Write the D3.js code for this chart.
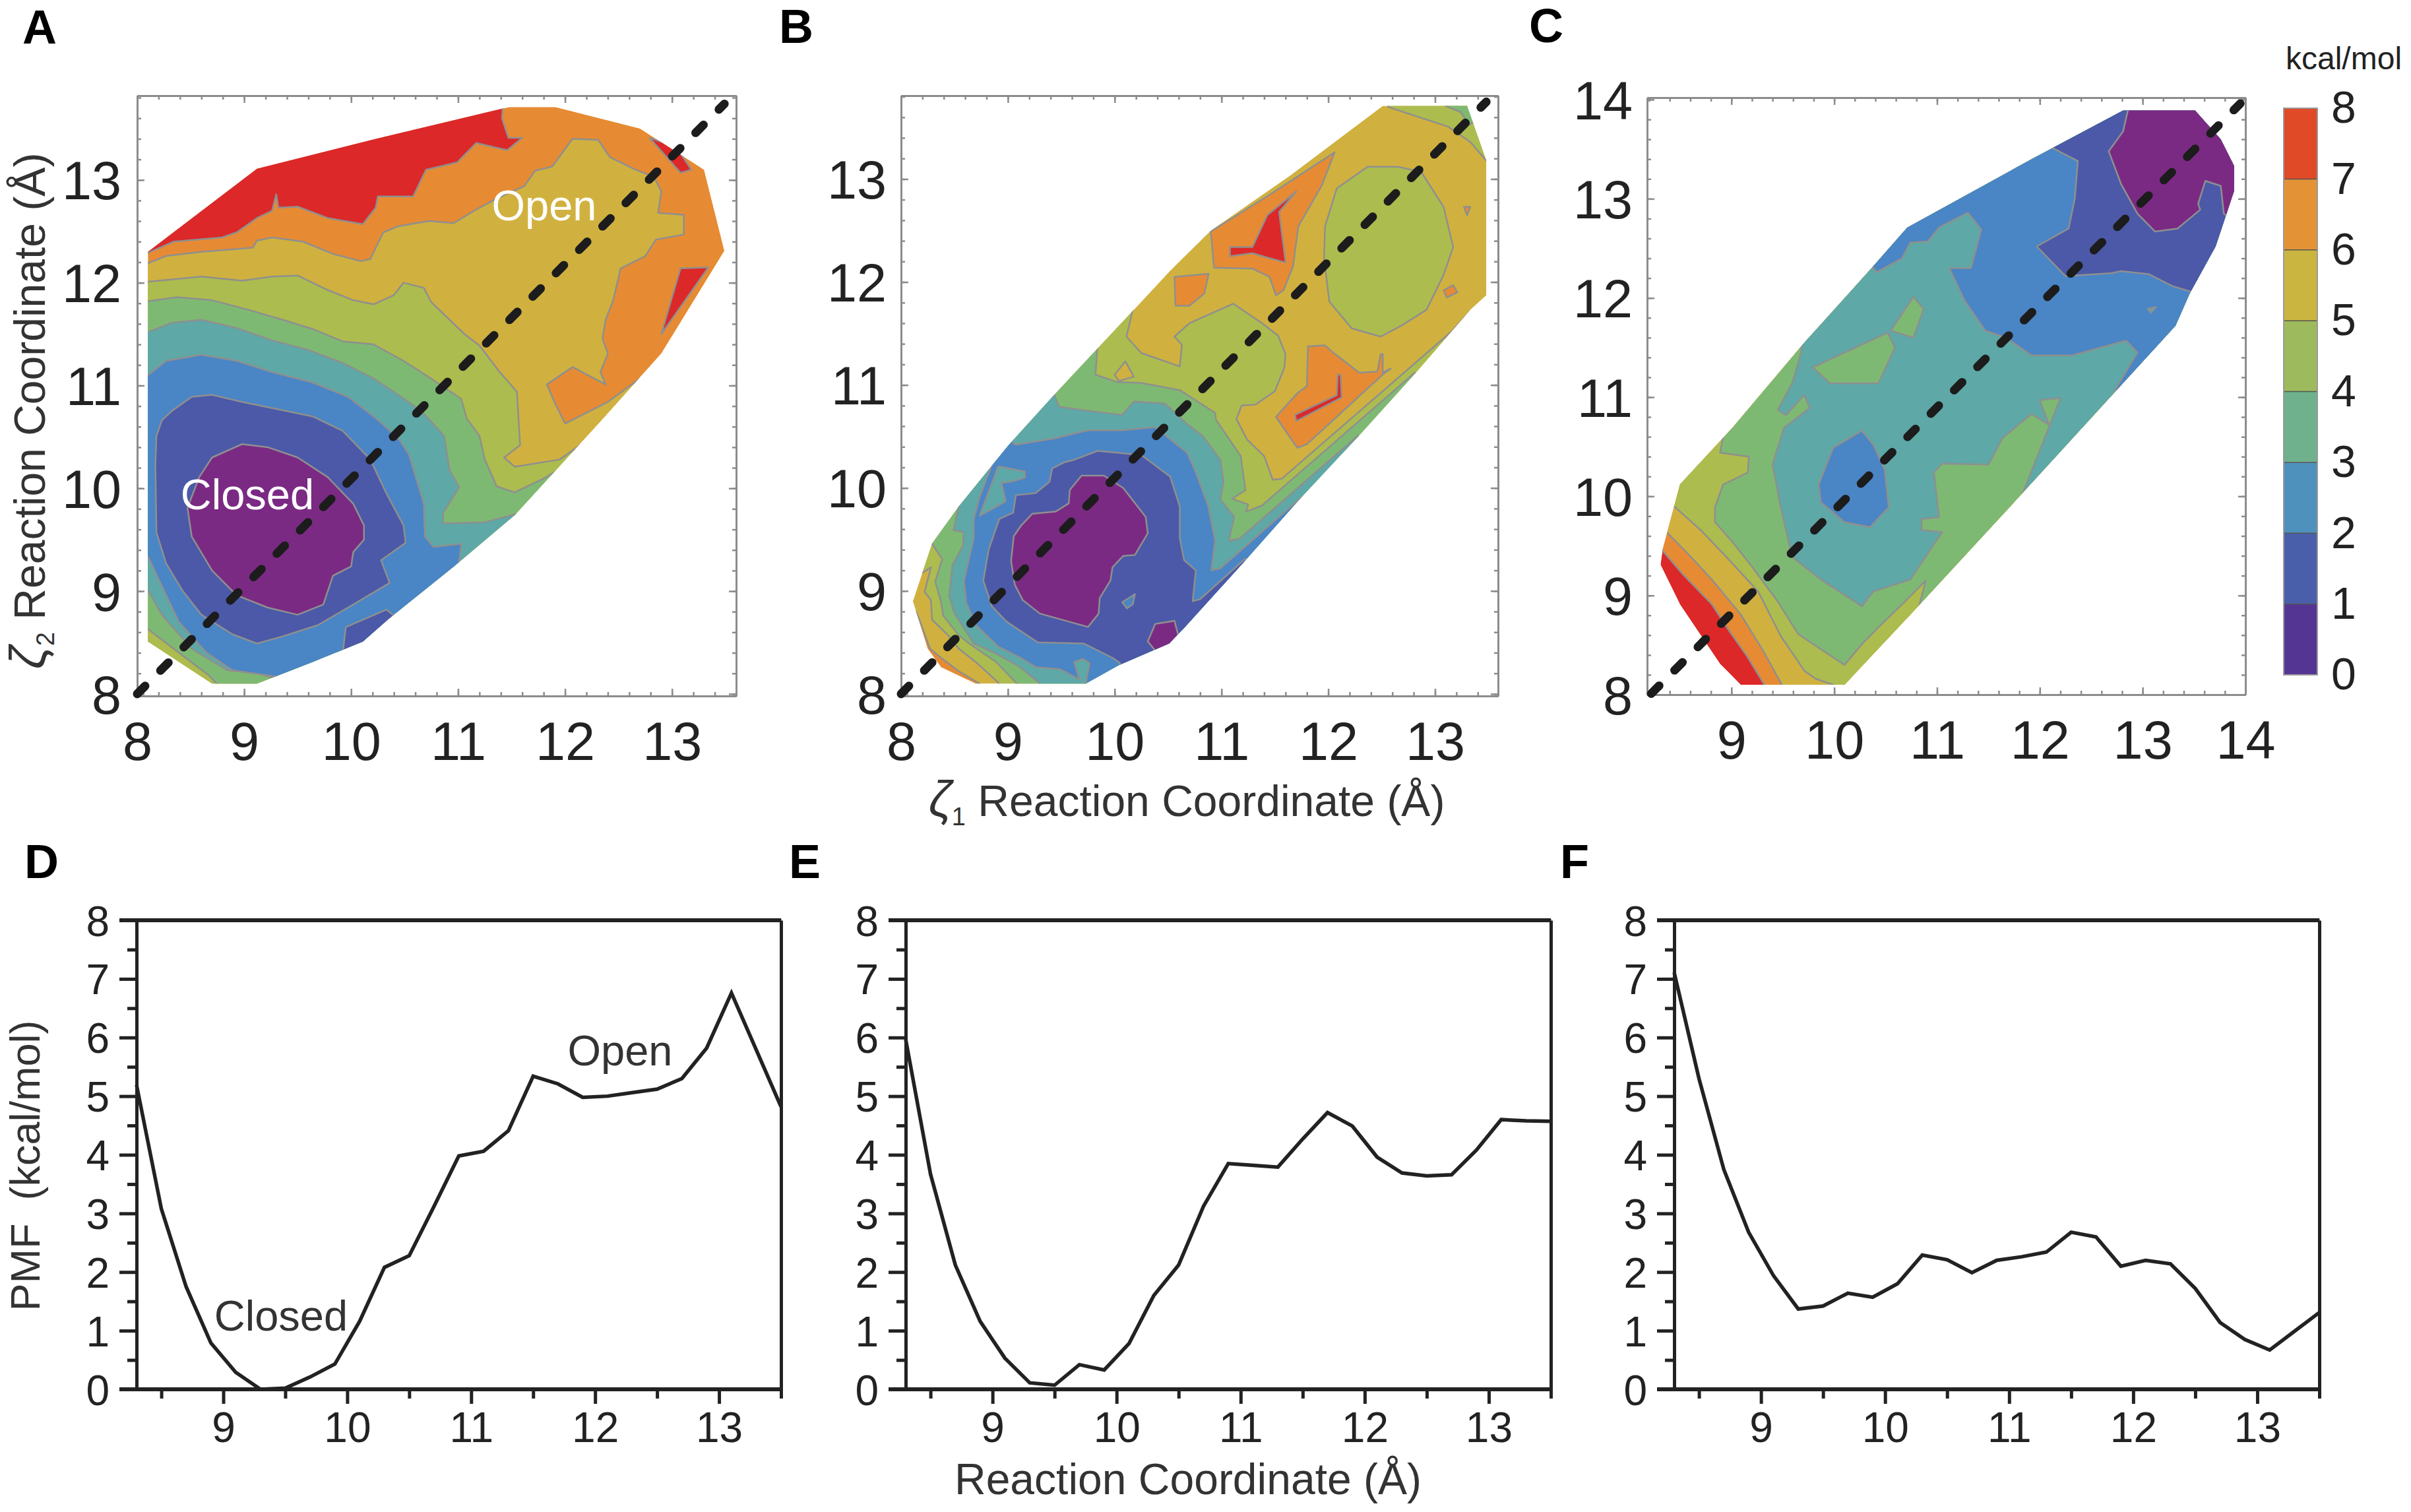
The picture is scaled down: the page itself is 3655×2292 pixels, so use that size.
<!DOCTYPE html>
<html>
<head>
<meta charset="utf-8">
<title>PMF maps</title>
<script src="https://cdn.jsdelivr.net/npm/d3@7"></script>
<style>
  html, body { margin: 0; background: #fff; }
  svg { display: block; }
  text { font-family: "Liberation Sans", Arial, sans-serif; fill: #222; }
</style>
</head>
<body>
<div id="chart"></div>
<script>
// level bands, low to high
const mapColors = ['#7b2a84', '#4b59a8', '#4a85c5', '#5ea8a7', '#7eb973', '#adbc4e', '#d0b13f', '#e68b33', '#dc2828'];
const barColors = ['#553594', '#4a5faa', '#4f91bd', '#6eb18c', '#9dbb5c', '#cbb541', '#e39336', '#e04a26'];
const barLevels = [0, 1, 2, 3, 4, 5, 6, 7, 8];

// Panel A contours, [zeta1, zeta2]
const hullA = [[8.10,12.30],[9.12,13.11],[10.23,13.40],[11.48,13.71],[11.91,13.71],[12.70,13.50],[13.30,13.10],[13.49,12.31],[12.90,11.31],[12.33,10.65],[11.53,9.74],[10.96,9.24],[10.35,8.73],[10.11,8.51],[9.64,8.31],[9.12,8.10],[8.70,8.10],[8.10,8.51]];
const aRedTop = [[7.9,12.2],[8.10,12.29],[8.34,12.40],[8.79,12.44],[8.93,12.49],[9.12,12.63],[9.26,12.70],[9.30,12.86],[9.32,12.73],[9.50,12.74],[9.78,12.63],[10.11,12.57],[10.23,12.73],[10.25,12.84],[10.58,12.84],[10.70,13.10],[10.99,13.17],[11.17,13.36],[11.46,13.29],[11.60,13.41],[11.47,13.41],[11.41,13.60],[11.43,13.9],[9,13.9],[7.9,13]];
const aRedRight1 = [[12.79,13.41],[13.04,13.32],[13.18,13.10],[13.08,13.07]];
const aRedRight2 = [[13.08,12.14],[13.34,12.15],[12.90,11.50]];
const aYellow = [[7.9,12.14],[8.10,12.19],[8.27,12.26],[8.60,12.30],[9.08,12.34],[9.12,12.41],[9.26,12.44],[9.55,12.40],[9.83,12.28],[10.09,12.21],[10.18,12.23],[10.30,12.49],[10.44,12.55],[10.73,12.60],[10.96,12.58],[11.15,12.70],[11.36,12.82],[11.62,12.94],[11.72,13.09],[11.88,13.13],[12.07,13.40],[12.31,13.39],[12.42,13.22],[12.66,13.10],[12.83,13.03],[12.90,12.89],[12.87,12.68],[13.11,12.66],[13.11,12.47],[12.85,12.42],[12.75,12.26],[12.52,12.14],[12.45,11.83],[12.38,11.64],[12.35,11.46],[12.40,11.31],[12.33,11.13],[12.38,11.01],[12.07,11.18],[11.83,11.01],[11.91,10.82],[12.00,10.63],[12.40,10.84],[12.78,11.13],[13.5,10.5],[12,7.9],[7.9,7.9]];
const aOlive = [[7.9,11.99],[8.10,12.01],[8.60,12.06],[8.98,12.02],[9.26,12.06],[9.50,12.07],[9.78,11.93],[10.02,11.83],[10.21,11.79],[10.40,11.88],[10.49,12.00],[10.68,11.95],[10.75,11.81],[11.06,11.50],[11.20,11.39],[11.39,11.13],[11.55,10.94],[11.58,10.42],[11.43,10.30],[11.53,10.21],[11.95,10.28],[12.45,10.65],[12.5,9],[10,7.9],[7.9,7.9]];
const aGreen = [[7.9,11.80],[8.10,11.82],[8.37,11.86],[8.70,11.83],[9.03,11.74],[9.36,11.64],[9.64,11.55],[9.92,11.43],[10.21,11.40],[10.49,11.24],[10.73,11.08],[11.03,10.87],[11.08,10.68],[11.20,10.51],[11.25,10.28],[11.36,10.02],[11.53,9.96],[11.79,10.09],[12.05,10.25],[12,9],[10,7.9],[8.77,7.9],[8.77,8.07],[8.67,8.18],[8.39,8.40],[8.10,8.63],[7.9,8.68]];
const aTeal = [[7.9,11.45],[8.10,11.52],[8.32,11.61],[8.60,11.64],[8.93,11.56],[9.26,11.44],[9.59,11.35],[9.92,11.22],[10.21,11.07],[10.44,10.91],[10.66,10.75],[10.87,10.51],[10.92,10.18],[11.01,10.01],[10.86,9.76],[10.86,9.66],[11.25,9.67],[11.58,9.76],[12,9],[10,7.9],[9.36,7.9],[9.36,8.07],[9.26,8.16],[9.12,8.20],[8.84,8.23],[8.51,8.44],[8.23,8.77],[8.10,9.01],[7.9,9.06]];
const aBlue = [[7.9,11.0],[8.10,11.10],[8.27,11.24],[8.60,11.30],[8.93,11.24],[9.26,11.13],[9.64,11.03],[9.97,10.89],[10.21,10.70],[10.44,10.49],[10.54,10.33],[10.61,10.09],[10.68,9.85],[10.69,9.53],[10.77,9.43],[11.03,9.46],[11.0,9.2],[10.5,8.2],[9.41,8.15],[9.22,8.18],[8.89,8.23],[8.65,8.40],[8.39,8.70],[8.23,9.05],[8.10,9.34],[7.9,9.39]];
const aIndigo = [[8.18,10.51],[8.23,10.66],[8.32,10.75],[8.51,10.89],[8.70,10.91],[8.98,10.84],[9.31,10.77],[9.64,10.70],[9.92,10.56],[10.18,10.28],[10.33,9.95],[10.49,9.64],[10.51,9.47],[10.28,9.30],[10.36,9.08],[10.02,8.87],[9.69,8.67],[9.36,8.56],[9.12,8.49],[8.89,8.58],[8.60,8.77],[8.42,9.01],[8.27,9.27],[8.18,9.57],[8.17,10.23]];
const aIndigoLow = [[9.95,8.65],[10.33,8.82],[10.45,8.72],[10.1,8.4],[9.92,8.38]];
const aPurple = [[8.58,10.11],[8.70,10.30],[8.98,10.43],[9.22,10.40],[9.50,10.30],[9.78,10.11],[10.02,9.85],[10.12,9.64],[10.12,9.50],[10.02,9.38],[10.00,9.24],[9.83,9.15],[9.74,8.87],[9.50,8.77],[9.22,8.84],[8.93,8.96],[8.70,9.20],[8.51,9.53],[8.47,9.81]];

// Panel B contours
const hullB = [[8.11,8.90],[8.29,9.46],[8.54,9.82],[9.01,10.42],[9.43,10.90],[10.25,11.81],[10.52,12.11],[10.90,12.50],[11.65,13.04],[12.51,13.71],[13.30,13.71],[13.48,13.18],[13.48,11.87],[13.33,11.73],[12.83,11.13],[12.28,10.50],[11.74,9.90],[11.20,9.27],[10.65,8.64],[10.51,8.49],[10.04,8.28],[9.73,8.10],[8.70,8.10],[8.375,8.26],[8.25,8.44]];
const bOrangeCorner = [[8.14,8.80],[8.18,8.70],[8.27,8.44],[8.375,8.35],[8.54,8.22],[8.735,8.10],[8.75,7.95],[7.95,7.95],[7.95,8.80]];
const bOliveTop = [[12.56,13.70],[13.12,13.51],[13.33,13.36],[13.48,13.18],[13.7,13.18],[13.7,13.9],[12.56,13.9]];
const bGreenTop = [[13.10,13.71],[13.24,13.65],[13.32,13.53],[13.45,13.6],[13.4,13.9],[13.1,13.9]];
const bOrangeTop = [[10.90,12.49],[10.93,12.14],[11.29,12.13],[11.45,12.05],[11.51,11.87],[11.58,11.92],[11.67,12.15],[11.72,12.54],[11.94,12.94],[12.06,13.26],[11.47,12.86]];
const bRedTop = [[11.08,12.34],[11.29,12.34],[11.43,12.65],[11.70,12.88],[11.54,12.68],[11.60,12.19],[11.42,12.24],[11.29,12.28],[11.08,12.25]];
const bOrangeLeft = [[10.56,12.05],[10.88,12.08],[10.84,11.89],[10.70,11.77],[10.57,11.77]];
const bOrangeTiny1 = [[13.08,11.92],[13.17,11.97],[13.21,11.90],[13.11,11.85]];
const bOrangeTiny2 = [[13.27,12.73],[13.33,12.73],[13.30,12.65]];
const bOrangeMid = [[11.51,10.69],[11.71,10.92],[11.80,10.99],[11.81,11.375],[11.97,11.385],[12.04,11.32],[12.29,11.12],[12.46,11.13],[12.49,11.30],[12.51,11.30],[12.51,11.12],[12.585,11.16],[12.52,11.11],[11.80,10.425],[11.71,10.39]];
const bRedMid = [[11.69,10.71],[12.08,10.90],[12.09,11.10],[12.115,11.10],[12.125,10.88],[11.70,10.65]];
const bOliveRight = [[11.97,12.54],[12.08,12.91],[12.37,13.12],[12.65,13.12],[12.87,13.07],[13.08,12.73],[13.17,12.34],[13.08,12.07],[12.92,11.73],[12.69,11.58],[12.49,11.47],[12.22,11.55],[12.01,11.81],[11.96,12.23]];
const bOlive = [[10.20,11.86],[10.11,11.47],[10.25,11.31],[10.61,11.18],[10.63,11.39],[10.56,11.47],[10.70,11.60],[11.11,11.79],[11.38,11.60],[11.53,11.48],[11.60,11.30],[11.59,11.17],[11.50,10.94],[11.32,10.81],[11.19,10.80],[11.14,10.67],[11.24,10.47],[11.40,10.31],[11.48,10.08],[11.565,10.09],[13.16,11.525],[13.33,11.72],[13.46,11.60],[13.0,10.0],[10.5,7.95],[8.95,7.95],[8.91,8.11],[8.71,8.30],[8.54,8.44],[8.44,8.57],[8.29,8.72],[8.28,8.91],[8.22,8.99],[8.28,9.23],[8.19,9.17],[8.0,9.8]];
const bYellowIsle = [[10.00,11.10],[10.10,11.23],[10.18,11.08],[10.04,11.04]];
const bGreen = [[9.84,11.39],[9.82,11.10],[10.02,11.03],[10.25,11.02],[10.61,10.95],[10.94,10.73],[10.95,10.66],[11.18,10.31],[11.225,9.98],[11.10,9.895],[11.25,9.84],[11.23,9.77],[11.38,9.83],[12.81,11.12],[12.9,11.05],[11.2,7.95],[9.2,7.95],[9.075,8.11],[8.89,8.31],[8.65,8.48],[8.54,8.57],[8.395,8.76],[8.375,8.89],[8.32,9.09],[8.385,9.31],[8.29,9.46],[8.2,9.6],[9.6,11.4]];
const bTeal = [[9.43,10.92],[9.48,10.79],[9.75,10.75],[10.07,10.71],[10.18,10.84],[10.47,10.82],[10.68,10.62],[10.82,10.51],[10.99,10.275],[11.02,10.06],[10.99,9.89],[11.12,9.72],[11.07,9.485],[11.17,9.51],[12.28,10.51],[12.3,10.4],[11.2,7.95],[9.35,7.95],[9.29,8.11],[9.10,8.27],[8.89,8.39],[8.68,8.49],[8.63,8.57],[8.50,8.78],[8.45,8.95],[8.48,9.25],[8.58,9.44],[8.585,9.57],[8.49,9.59],[8.54,9.82],[8.45,9.95],[9.33,11.0]];
const bBlue = [[8.98,10.5],[9.07,10.42],[9.43,10.48],[9.75,10.56],[10.07,10.56],[10.38,10.59],[10.68,10.34],[10.76,10.15],[10.875,9.83],[10.94,9.485],[10.905,9.20],[10.99,9.22],[11.76,9.92],[11.85,9.9],[11.0,7.95],[9.75,7.95],[9.72,8.05],[9.765,8.30],[9.70,8.34],[9.62,8.31],[9.67,8.14],[9.49,8.24],[9.26,8.26],[9.12,8.35],[8.91,8.46],[8.70,8.67],[8.61,8.89],[8.59,9.10],[8.68,9.51],[8.68,9.69],[8.735,9.91],[8.85,10.22],[8.84,10.3]];
const bTealIsle = [[8.91,10.21],[9.16,10.16],[9.16,10.10],[9.03,10.06],[8.94,10.05],[8.98,9.87],[8.735,9.73]];
const bIndigo = [[8.77,9.10],[8.82,9.40],[8.92,9.70],[9.05,9.76],[9.075,9.93],[9.26,9.95],[9.39,10.06],[9.415,10.19],[9.53,10.25],[9.61,10.27],[9.84,10.36],[10.25,10.32],[10.52,10.11],[10.61,9.82],[10.61,9.51],[10.65,9.30],[10.76,9.20],[10.73,8.90],[10.80,8.92],[11.225,9.315],[11.3,9.2],[10.9,8.6],[10.5,8.35],[10.05,8.2],[10.05,8.30],[9.98,8.35],[9.71,8.49],[9.28,8.50],[8.99,8.70],[8.85,8.85]];
const bBlueIsle = [[10.07,8.89],[10.19,8.97],[10.17,8.87],[10.115,8.83]];
const bPurple = [[9.055,9.53],[9.12,9.63],[9.23,9.75],[9.445,9.77],[9.57,9.85],[9.58,9.98],[9.69,10.12],[9.90,10.12],[10.08,10.0],[10.29,9.72],[10.31,9.56],[10.19,9.35],[10.08,9.34],[9.98,9.23],[9.96,9.10],[9.86,8.93],[9.85,8.78],[9.75,8.65],[9.30,8.78],[9.14,8.91],[9.065,9.06],[9.03,9.29]];
const bPurpleLow = [[10.31,8.51],[10.38,8.68],[10.56,8.71],[10.60,8.55],[10.51,8.42],[10.38,8.42]];

// Panel C contours
const hullC = [[8.31,9.31],[8.33,9.46],[8.50,10.12],[9.01,10.69],[9.71,11.55],[10.38,12.32],[10.71,12.71],[11.92,13.40],[12.81,13.89],[13.51,13.89],[13.76,13.60],[13.89,13.33],[13.89,13.08],[13.71,12.52],[13.46,12.05],[13.32,11.72],[12.72,11.04],[11.75,9.94],[10.77,8.84],[10.10,8.10],[9.09,8.10],[8.89,8.31],[8.50,8.91]];
const cOrange = [[8.25,9.51],[8.33,9.45],[8.53,9.21],[8.81,8.91],[8.98,8.64],[9.15,8.39],[9.32,8.10],[9.40,8.01],[14.5,8],[14.5,14.2],[8.2,14.2]];
const cYellow = [[8.25,9.75],[8.32,9.69],[8.56,9.44],[8.81,9.16],[9.09,8.81],[9.31,8.44],[9.49,8.10],[9.57,8.01],[14.5,8],[14.5,14.2],[8.2,14.2]];
const cOlive = [[8.3,9.98],[8.42,9.92],[8.70,9.66],[8.95,9.39],[9.26,9.04],[9.48,8.59],[9.71,8.24],[9.82,8.16],[9.99,8.10],[10.04,8.01],[14.5,8],[14.5,14.2],[8.2,14.2]];
const cGreen = [[8.95,10.77],[8.89,10.44],[9.17,10.40],[9.16,10.24],[8.92,10.12],[8.84,9.89],[8.84,9.74],[9.01,9.54],[9.20,9.29],[9.45,8.94],[9.65,8.61],[10.10,8.30],[10.27,8.51],[10.43,8.68],[10.66,8.91],[10.89,9.15],[10.80,8.79],[14.5,9],[14.5,14.2],[9,14.2]];
const cTeal = [[9.68,11.57],[9.68,11.45],[9.59,11.14],[9.45,10.87],[9.53,10.82],[9.71,11.02],[9.76,10.89],[9.51,10.69],[9.40,10.32],[9.48,9.89],[9.59,9.39],[9.87,9.16],[10.27,8.89],[10.38,9.04],[10.74,9.16],[11.05,9.64],[10.85,9.66],[10.85,9.77],[11.02,9.79],[10.97,10.24],[11.05,10.33],[11.50,10.32],[11.64,10.59],[11.92,10.83],[12.09,10.72],[12.00,10.97],[12.20,10.99],[11.81,9.97],[14.5,9.5],[14.5,14.2],[9.6,14.2]];
const cGreenIsle1 = [[9.79,11.30],[10.52,11.65],[10.59,11.50],[10.43,11.14],[9.96,11.14]];
const cGreenIsle2 = [[10.55,11.67],[10.77,12.01],[10.87,11.89],[10.77,11.60]];
const cBlue = [[10.35,12.35],[10.41,12.26],[10.66,12.40],[10.74,12.56],[10.91,12.57],[11.02,12.71],[11.30,12.86],[11.43,12.69],[11.33,12.30],[11.12,12.30],[11.27,11.97],[11.47,11.67],[11.67,11.60],[11.92,11.42],[12.31,11.42],[12.84,11.57],[12.95,11.45],[12.73,11.07],[12.9,10.9],[14.5,11.5],[14.5,14.2],[10.35,14.2]];
const cTealTiny = [[13.05,11.89],[13.13,11.91],[13.08,11.85]];
const cBlueIsle = [[9.85,10.12],[9.99,10.49],[10.27,10.66],[10.38,10.52],[10.49,10.27],[10.53,9.89],[10.35,9.69],[10.10,9.74],[9.87,9.94]];
const cIndigo = [[12.09,13.53],[12.37,13.38],[12.34,13.00],[12.28,12.70],[11.97,12.52],[12.25,12.22],[12.70,12.25],[12.79,12.27],[13.06,12.24],[13.29,12.12],[13.51,12.05],[14.5,12],[14.5,14.2],[12.09,14.2]];
const cPurple = [[12.87,13.95],[12.81,13.68],[12.67,13.48],[12.79,13.15],[12.95,12.85],[13.12,12.67],[13.34,12.70],[13.56,12.89],[13.54,12.95],[13.61,13.18],[13.76,13.13],[13.79,12.85],[13.85,12.80],[14.2,13],[14.2,14.2],[12.87,14.2]];

// PMF profiles
const coordD = [8.3,8.5,8.7,8.9,9.1,9.3,9.5,9.7,9.9,10.1,10.3,10.5,10.7,10.9,11.1,11.3,11.5,11.7,11.9,12.1,12.3,12.5,12.7,12.9,13.1,13.3,13.5];
const pmfD = [5.19,3.08,1.75,0.79,0.29,0,0.02,0.21,0.43,1.16,2.08,2.28,3.12,3.98,4.06,4.41,5.34,5.21,4.98,5.0,5.06,5.12,5.30,5.82,6.76,5.79,4.82];
const pmfE = [5.97,3.67,2.12,1.16,0.53,0.11,0.07,0.42,0.33,0.78,1.60,2.12,3.12,3.85,3.82,3.79,4.27,4.72,4.49,3.96,3.69,3.64,3.66,4.08,4.60,4.58,4.57];
const pmfF = [7.11,5.30,3.75,2.68,1.94,1.37,1.42,1.64,1.57,1.80,2.29,2.21,1.99,2.20,2.26,2.34,2.68,2.60,2.10,2.20,2.14,1.72,1.14,0.85,0.67,0.99,1.31];

const WIDTH = 3655;
const HEIGHT = 2292;

const svg = d3.select('#chart').append('svg')
  .attr('width', WIDTH).attr('height', HEIGHT)
  .attr('viewBox', `0 0 ${WIDTH} ${HEIGHT}`);

const band = (i) => mapColors[i];

function drawMap(id, box, xDomain, yDomain, xMajor, yMajor, hull, layers, diagonal) {
  const x = d3.scaleLinear().domain(xDomain).range([box.left, box.right]);
  const y = d3.scaleLinear().domain(yDomain).range([box.bottom, box.top]);
  const line = d3.line().x((d) => x(d[0])).y((d) => y(d[1])).curve(d3.curveLinearClosed);

  svg.append('clipPath').attr('id', `hull${id}`).append('path').attr('d', line(hull));

  const g = svg.append('g').attr('clip-path', `url(#hull${id})`);
  g.append('path').attr('d', line(hull)).attr('fill', band(layers[0][0]));
  g.selectAll('.band')
    .data(layers.slice(1))
    .join('path')
    .attr('class', 'band')
    .attr('d', (d) => line(d[1]))
    .attr('fill', (d) => band(d[0]))
    .attr('stroke', '#8f8f8f')
    .attr('stroke-width', 2.5)
    .attr('stroke-linejoin', 'round');

  // thin grey frame, ticks inward on all four sides
  const minorX = d3.range(Math.ceil(xDomain[0] * 5), Math.floor(xDomain[1] * 5) + 1).map((d) => d / 5);
  const minorY = d3.range(Math.ceil(yDomain[0] * 5), Math.floor(yDomain[1] * 5) + 1).map((d) => d / 5);
  const frame = svg.append('g');
  const addAxis = (axis, tx, ty, cls) => {
    const a = frame.append('g').attr('transform', `translate(${tx},${ty})`).attr('class', cls).call(axis);
    a.selectAll('.domain').attr('stroke', '#8c8c8c').attr('stroke-width', 3);
    a.selectAll('.tick line').attr('stroke', '#8c8c8c').attr('stroke-width', 2.5);
    return a;
  };
  addAxis(d3.axisBottom(x).tickValues(minorX).tickSize(-6).tickFormat('').tickSizeOuter(0), 0, box.bottom);
  addAxis(d3.axisTop(x).tickValues(minorX).tickSize(-6).tickFormat('').tickSizeOuter(0), 0, box.top);
  addAxis(d3.axisLeft(y).tickValues(minorY).tickSize(-6).tickFormat('').tickSizeOuter(0), box.left, 0);
  addAxis(d3.axisRight(y).tickValues(minorY).tickSize(-6).tickFormat('').tickSizeOuter(0), box.right, 0);
  addAxis(d3.axisTop(x).tickValues(xMajor).tickSize(-11).tickFormat('').tickSizeOuter(0), 0, box.top);
  addAxis(d3.axisRight(y).tickValues(yMajor).tickSize(-11).tickFormat('').tickSizeOuter(0), box.right, 0);

  const bottom = addAxis(d3.axisBottom(x).tickValues(xMajor).tickSize(-11).tickFormat(d3.format('d')).tickSizeOuter(0), 0, box.bottom);
  bottom.selectAll('text').attr('y', 97).attr('dy', 0).style('font-size', '81px').style('font-family', 'Liberation Sans').attr('fill', '#111');
  const left = addAxis(d3.axisLeft(y).tickValues(yMajor).tickSize(-11).tickFormat(d3.format('d')).tickSizeOuter(0), box.left, 0);
  left.selectAll('text').attr('x', box.labelX).attr('dy', '0.36em').style('font-size', '81px').style('font-family', 'Liberation Sans').attr('fill', '#111');

  svg.append('path')
    .attr('d', d3.line().x((d) => x(d[0])).y((d) => y(d[1]))(diagonal))
    .attr('fill', 'none')
    .attr('stroke', '#1c1c1c')
    .attr('stroke-width', 13)
    .attr('stroke-linecap', 'round')
    .attr('stroke-dasharray', '17 33');

  return { x, y };
}

drawMap('A', { left: 208, right: 1116, top: 145, bottom: 1055, labelX: -24 }, [8, 13.6], [7.98, 13.82],
  [8, 9, 10, 11, 12, 13], [8, 9, 10, 11, 12, 13], hullA, [
    [7, hullA], [8, aRedTop], [8, aRedRight1], [8, aRedRight2], [6, aYellow], [5, aOlive], [4, aGreen], [3, aTeal],
    [2, aBlue], [1, aIndigo], [1, aIndigoLow], [0, aPurple]
  ], [[8, 8], [13.49, 13.74]]);

drawMap('B', { left: 1366, right: 2271, top: 145, bottom: 1055, labelX: -22 }, [8, 13.59], [7.98, 13.81],
  [8, 9, 10, 11, 12, 13], [8, 9, 10, 11, 12, 13], hullB, [
    [6, hullB], [7, bOrangeCorner], [5, bOliveTop], [4, bGreenTop], [7, bOrangeTop], [8, bRedTop], [7, bOrangeLeft],
    [7, bOrangeTiny1], [7, bOrangeTiny2], [7, bOrangeMid], [8, bRedMid], [5, bOliveRight], [5, bOlive], [6, bYellowIsle],
    [4, bGreen], [3, bTeal], [2, bBlue], [3, bTealIsle], [1, bIndigo], [2, bBlueIsle], [0, bPurple], [0, bPurpleLow]
  ], [[8, 8], [13.48, 13.75]]);

drawMap('C', { left: 2497, right: 3404, top: 148, bottom: 1053, labelX: -22 }, [8.18, 14], [8, 14.02],
  [9, 10, 11, 12, 13, 14], [8, 9, 10, 11, 12, 13, 14], hullC, [
    [8, hullC], [7, cOrange], [6, cYellow], [5, cOlive], [4, cGreen], [3, cTeal], [4, cGreenIsle1], [4, cGreenIsle2],
    [2, cBlue], [3, cTealTiny], [2, cBlueIsle], [1, cIndigo], [0, cPurple]
  ], [[8.22, 8.01], [13.95, 13.96]]);

// colour bar
const barY = d3.scaleLinear().domain([0, 8]).range([1023, 164]);
svg.append('g').selectAll('rect')
  .data(barColors)
  .join('rect')
  .attr('x', 3462).attr('width', 51)
  .attr('y', (d, i) => barY(i + 1))
  .attr('height', (d, i) => barY(i) - barY(i + 1))
  .attr('fill', (d) => d);
svg.append('g').selectAll('line')
  .data(barLevels.slice(1, -1))
  .join('line')
  .attr('x1', 3462).attr('x2', 3513)
  .attr('y1', (d) => barY(d)).attr('y2', (d) => barY(d))
  .attr('stroke', '#555').attr('stroke-width', 1.5);
svg.append('rect').attr('x', 3462).attr('width', 51).attr('y', barY(8)).attr('height', barY(0) - barY(8))
  .attr('fill', 'none').attr('stroke', '#9a9a9a').attr('stroke-width', 2);
const barAxis = svg.append('g').attr('transform', 'translate(3513,0)')
  .call(d3.axisRight(barY).tickValues(barLevels).tickSize(0).tickPadding(21).tickFormat(d3.format('d')));
barAxis.select('.domain').remove();
barAxis.selectAll('text').style('font-size', '68px').style('font-family', 'Liberation Sans').attr('fill', '#111');
svg.append('text').attr('x', 3465).attr('y', 105).style('font-size', '48px').text('kcal/mol');

// PMF profile panels
const pmfLine = (box, values) => {
  const x = d3.scaleLinear().domain([8.3, 13.5]).range([box.left, box.right]);
  const y = d3.scaleLinear().domain([0, 8]).range([2106, 1395]);
  const g = svg.append('g');

  g.append('path')
    .attr('d', d3.line().x((d) => x(d[0])).y((d) => y(d[1]))(d3.zip(coordD, values)))
    .attr('fill', 'none').attr('stroke', '#222').attr('stroke-width', 5.5).attr('stroke-linejoin', 'miter');

  const style = (a) => {
    a.selectAll('.domain').attr('stroke', '#222').attr('stroke-width', 5);
    a.selectAll('.tick line').attr('stroke', '#222').attr('stroke-width', 5);
  };
  const ax = g.append('g').attr('transform', 'translate(0,2106)')
    .call(d3.axisBottom(x).tickValues([9, 10, 11, 12, 13]).tickSize(22).tickSizeOuter(0).tickFormat(d3.format('d')));
  style(ax);
  ax.selectAll('text').attr('y', 80).attr('dy', 0).style('font-size', '64px').style('font-family', 'Liberation Sans').attr('fill', '#222');
  const axMinor = g.append('g').attr('transform', 'translate(0,2106)')
    .call(d3.axisBottom(x).tickValues([8.5, 9.5, 10.5, 11.5, 12.5, 13.5]).tickSize(14).tickSizeOuter(0).tickFormat(''));
  style(axMinor);
  style(g.append('g').attr('transform', 'translate(0,1395)').call(d3.axisTop(x).tickValues([]).tickSizeOuter(0)));
  const ay = g.append('g').attr('transform', `translate(${box.left},0)`)
    .call(d3.axisLeft(y).tickValues(d3.range(0, 9)).tickSize(26).tickSizeOuter(0).tickFormat(d3.format('d')));
  style(ay);
  ay.selectAll('text').attr('x', -41).attr('dy', '0.36em').style('font-size', '64px').style('font-family', 'Liberation Sans').attr('fill', '#222');
  const ayMinor = g.append('g').attr('transform', `translate(${box.left},0)`)
    .call(d3.axisLeft(y).tickValues(d3.range(0.5, 8, 1)).tickSize(14).tickSizeOuter(0).tickFormat(''));
  style(ayMinor);
  style(g.append('g').attr('transform', `translate(${box.right},0)`).call(d3.axisRight(y).tickValues([]).tickSizeOuter(0)));
  // top and bottom rails run out over the first tick
  g.append('line').attr('x1', box.left - 26).attr('x2', box.right).attr('y1', y(8)).attr('y2', y(8)).attr('stroke', '#222').attr('stroke-width', 6);
  g.append('line').attr('x1', box.left - 26).attr('x2', box.right).attr('y1', y(0)).attr('y2', y(0)).attr('stroke', '#222').attr('stroke-width', 6);
};
pmfLine({ left: 207, right: 1184 }, pmfD);
pmfLine({ left: 1373, right: 2351 }, pmfE);
pmfLine({ left: 2538, right: 3516 }, pmfF);

// labels
const letters = [['A', 34, 66], ['B', 1181, 65], ['C', 2318, 64], ['D', 37, 1331], ['E', 1196, 1331], ['F', 2365, 1331]];
svg.selectAll('.letter')
  .data(letters)
  .join('text')
  .attr('class', 'letter')
  .attr('x', (d) => d[1]).attr('y', (d) => d[2])
  .style('font-size', '72px').style('font-weight', 'bold').style('fill', '#000')
  .text((d) => d[0]);

const zetaLabel = (node, sub) => {
  node.append('tspan').style('font-style', 'italic').style('font-size', '76px').text('ζ');
  node.append('tspan').attr('dy', 14).style('font-size', '38px').text(sub);
  node.append('tspan').attr('dy', -14).text(' Reaction Coordinate (Å)');
};
zetaLabel(svg.append('text').attr('transform', 'translate(68,623) rotate(-90)').attr('text-anchor', 'middle')
  .style('font-size', '66px').style('fill', '#333'), '2');
zetaLabel(svg.append('text').attr('x', 1799).attr('y', 1237).attr('text-anchor', 'middle')
  .style('font-size', '66px').style('fill', '#333'), '1');

svg.append('text').attr('x', 1801).attr('y', 2265).attr('text-anchor', 'middle')
  .style('font-size', '66px').style('fill', '#333').text('Reaction Coordinate (Å)');
svg.append('text').attr('transform', 'translate(60,1767) rotate(-90)').attr('text-anchor', 'middle')
  .attr('xml:space', 'preserve').style('font-size', '63px').style('fill', '#333').text('PMF  (kcal/mol)');

const notes = [['Open', 825, 334, '#fff'], ['Closed', 375, 772, '#fff'], ['Closed', 426, 2017, '#333'], ['Open', 940, 1615, '#333']];
svg.selectAll('.note')
  .data(notes)
  .join('text')
  .attr('class', 'note')
  .attr('x', (d) => d[1]).attr('y', (d) => d[2])
  .attr('text-anchor', 'middle')
  .style('font-size', '65px').style('fill', (d) => d[3])
  .text((d) => d[0]);
</script>
</body>
</html>
